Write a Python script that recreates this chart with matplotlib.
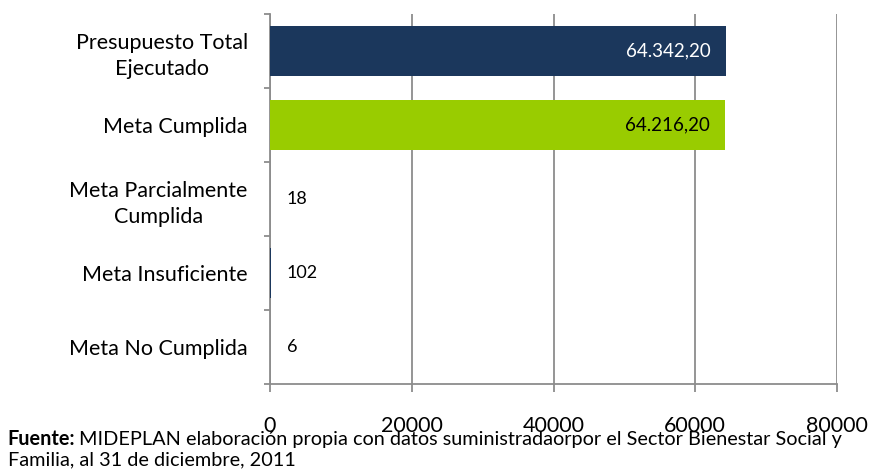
import matplotlib.pyplot as plt
import matplotlib.ticker as mticker

plt.rcParams['font.family'] = ['Lato', 'DejaVu Sans']

# top to bottom
CATEGORIES = ["Presupuesto Total\nEjecutado", "Meta Cumplida",
              "Meta Parcialmente\nCumplida", "Meta Insuficiente", "Meta No Cumplida"]
VALUES = [64342.20, 64216.20, 18, 102, 6]
LABELS = ["64.342,20", "64.216,20", "18", "102", "6"]
COLORS = ["#1b375c", "#99cc00", "#1b375c", "#1b375c", "#1b375c"]
LABEL_COLORS = ["white", "black", "black", "black", "black"]
X_TICKS = [0, 20000, 40000, 60000, 80000]

GRID = "#8c8c8c"

fig = plt.figure(figsize=(8.69, 4.72), dpi=100)
ax = fig.add_axes([0.3107, 0.1864, 0.6525, 0.7839])

ypos = list(range(len(CATEGORIES)))[::-1]
ax.barh(ypos, VALUES, height=0.68, color=COLORS, zorder=3)

for y, v, lab, c in zip(ypos, VALUES, LABELS, LABEL_COLORS):
    if v > 10000:
        ax.text(v - 2100, y, lab, ha="right", va="center", color=c, fontsize=13.5, zorder=4)
    else:
        ax.text(2400, y, lab, ha="left", va="center", color=c, fontsize=13, zorder=4)

ax.set_xlim(0, 80000)
ax.set_ylim(-0.5, len(CATEGORIES) - 0.5)
ax.set_xticks(X_TICKS)
ax.xaxis.set_major_formatter(mticker.FuncFormatter(lambda v, p: f"{int(v)}"))
ax.set_yticks(ypos)
ax.set_yticklabels(CATEGORIES, fontsize=15.5, linespacing=1.35, multialignment="center")
ax.set_yticks([i - 0.5 for i in range(len(CATEGORIES) + 1)], minor=True)

ax.grid(True, axis="x", color=GRID, linewidth=1.3, zorder=0)
for s in ["top", "right"]:
    ax.spines[s].set_visible(False)
for s in ["left", "bottom"]:
    ax.spines[s].set_color(GRID)
    ax.spines[s].set_linewidth(1.3)

ax.tick_params(axis="y", which="major", length=0, pad=16)
ax.tick_params(axis="y", which="minor", length=4.5, color=GRID, width=1.3)
ax.tick_params(axis="x", length=6, color=GRID, width=1.3, direction="out",
               labelsize=15.5, pad=17)

fs = 14.3
t1 = fig.text(0.009, 0.0572, "Fuente:", fontsize=fs, fontweight="bold", va="baseline")
fig.canvas.draw()
bb = t1.get_window_extent()
fig.text((bb.x1 + 4) / fig.bbox.width, 0.0572,
         "MIDEPLAN elaboración propia con datos suministradaorpor el Sector Bienestar Social y",
         fontsize=fs, va="baseline")
fig.text(0.009, 0.0148, "Familia, al 31 de diciembre, 2011", fontsize=fs, va="baseline")

fig.savefig("out.png", dpi=100)
